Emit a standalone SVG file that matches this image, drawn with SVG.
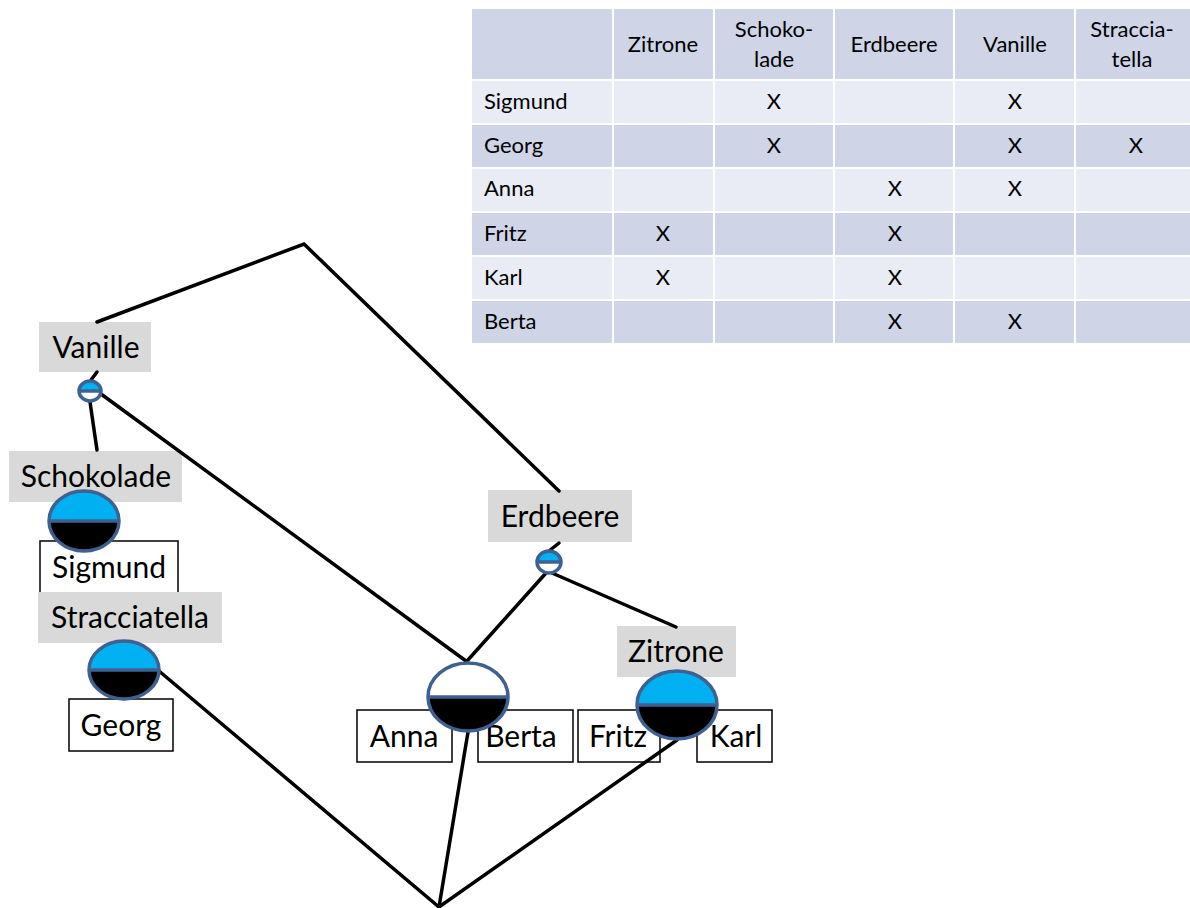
<svg xmlns="http://www.w3.org/2000/svg" width="1190" height="908" viewBox="0 0 1190 908">
  <defs>
    <style>
      .cell-h { fill: #cfd5e6; }
      .cell-l { fill: #e9ecf4; }
      .grid { stroke: #ffffff; stroke-width: 2; }
      .tt { font-family: Lato, "Liberation Sans", sans-serif; font-size: 22px; fill: #000; }
      .tc { text-anchor: middle; }
      .lbl { fill: #d9d9d9; }
      .box { fill: #ffffff; stroke: #000; stroke-width: 1.5; }
      .nt { font-family: Lato, "Liberation Sans", sans-serif; font-size: 30px; fill: #000; text-anchor: middle; }
      .edge { stroke: #000; stroke-width: 3.5; fill: none; stroke-linecap: round; }
      .ring { fill: none; stroke: #3f6191; stroke-width: 3.5; }
      .blue { fill: #00b0f0; }
      .black { fill: #000; }
      .white { fill: #fff; }
    </style>
  </defs>
  <rect width="1190" height="908" fill="#ffffff"/>

  <!-- context table -->
  <g id="table">
    <rect class="cell-h" x="472" y="9" width="718" height="71"/>
    <rect class="cell-l" x="472" y="80" width="718" height="44"/>
    <rect class="cell-h" x="472" y="124" width="718" height="44"/>
    <rect class="cell-l" x="472" y="168" width="718" height="44"/>
    <rect class="cell-h" x="472" y="212" width="718" height="44"/>
    <rect class="cell-l" x="472" y="256" width="718" height="44"/>
    <rect class="cell-h" x="472" y="300" width="718" height="43"/>
    <g class="grid">
      <line x1="472" y1="80" x2="1190" y2="80"/>
      <line x1="472" y1="124" x2="1190" y2="124"/>
      <line x1="472" y1="168" x2="1190" y2="168"/>
      <line x1="472" y1="212" x2="1190" y2="212"/>
      <line x1="472" y1="256" x2="1190" y2="256"/>
      <line x1="472" y1="300" x2="1190" y2="300"/>
      <line x1="613" y1="9" x2="613" y2="343"/>
      <line x1="714" y1="9" x2="714" y2="343"/>
      <line x1="834" y1="9" x2="834" y2="343"/>
      <line x1="954" y1="9" x2="954" y2="343"/>
      <line x1="1075" y1="9" x2="1075" y2="343"/>
    </g>
    <g class="tt tc">
      <text x="663" y="52">Zitrone</text>
      <text x="774" y="37">Schoko-</text>
      <text x="774" y="67">lade</text>
      <text x="894" y="52">Erdbeere</text>
      <text x="1015" y="52">Vanille</text>
      <text x="1132" y="37">Straccia-</text>
      <text x="1132" y="67">tella</text>
    </g>
    <g class="tt">
      <text x="484" y="109">Sigmund</text>
      <text x="484" y="153">Georg</text>
      <text x="484" y="196">Anna</text>
      <text x="484" y="241">Fritz</text>
      <text x="484" y="285">Karl</text>
      <text x="484" y="329">Berta</text>
    </g>
    <g class="tt tc">
      <text x="774" y="109">X</text>
      <text x="1015" y="109">X</text>
      <text x="774" y="153">X</text>
      <text x="1015" y="153">X</text>
      <text x="1136" y="153">X</text>
      <text x="895" y="196">X</text>
      <text x="1015" y="196">X</text>
      <text x="663" y="241">X</text>
      <text x="895" y="241">X</text>
      <text x="663" y="285">X</text>
      <text x="895" y="285">X</text>
      <text x="895" y="329">X</text>
      <text x="1015" y="329">X</text>
    </g>
  </g>

  <!-- attribute labels and object boxes -->
  <g id="label-vanille">
    <rect class="lbl" x="39" y="322" width="112" height="50"/>
    <text class="nt" x="96" y="358">Vanille</text>
  </g>
  <g id="label-schokolade">
    <rect class="lbl" x="9" y="451" width="173" height="51"/>
    <text class="nt" x="96" y="487">Schokolade</text>
  </g>
  <g id="object-sigmund">
    <rect class="box" x="40" y="541" width="138" height="52"/>
    <text class="nt" x="109" y="578">Sigmund</text>
  </g>
  <g id="label-stracciatella">
    <rect class="lbl" x="38" y="592" width="184" height="51"/>
    <text class="nt" x="130" y="628">Stracciatella</text>
  </g>
  <g id="object-georg">
    <rect class="box" x="69" y="699" width="104" height="52"/>
    <text class="nt" x="121" y="736">Georg</text>
  </g>
  <g id="label-erdbeere">
    <rect class="lbl" x="488" y="490" width="144" height="52"/>
    <text class="nt" x="560" y="527">Erdbeere</text>
  </g>
  <g id="label-zitrone">
    <rect class="lbl" x="617" y="626" width="119" height="51"/>
    <text class="nt" x="676" y="662">Zitrone</text>
  </g>
  <g id="object-anna">
    <rect class="box" x="357" y="710" width="95" height="52"/>
    <text class="nt" x="404" y="747">Anna</text>
  </g>
  <g id="object-berta">
    <rect class="box" x="478" y="710" width="95" height="52"/>
    <text class="nt" x="521" y="747">Berta</text>
  </g>
  <g id="object-fritz">
    <rect class="box" x="578" y="710" width="82" height="52"/>
    <text class="nt" x="618" y="747">Fritz</text>
  </g>
  <g id="object-karl">
    <rect class="box" x="697" y="710" width="75" height="52"/>
    <text class="nt" x="736" y="747">Karl</text>
  </g>

  <!-- lattice edges -->
  <g id="connectors" class="edge">
    <polyline points="97,322 304,244 559,491"/>
    <line x1="97" y1="372" x2="91" y2="380"/>
    <line x1="90" y1="402" x2="97" y2="450"/>
    <line x1="101" y1="394" x2="466" y2="661"/>
    <line x1="559" y1="543" x2="549" y2="551"/>
    <line x1="546" y1="573" x2="467" y2="661"/>
    <line x1="552" y1="573" x2="676" y2="627"/>
    <line x1="159" y1="671" x2="439" y2="907"/>
    <line x1="468" y1="732" x2="439" y2="907"/>
    <line x1="677" y1="740" x2="439" y2="907"/>
  </g>

  <!-- concept nodes: upper half = own attribute, lower half = own objects -->
  <g id="concept-vanille">
    <ellipse class="white" cx="90" cy="391" rx="11" ry="10"/>
    <path class="blue" d="M79,391 A11,10 0 0 1 101,391 Z"/>
    <line class="ring" x1="79" y1="391" x2="101" y2="391"/>
    <ellipse class="ring" cx="90" cy="391" rx="11" ry="10"/>
  </g>
  <g id="concept-schokolade">
    <ellipse class="black" cx="84" cy="521" rx="35" ry="30"/>
    <path class="blue" d="M49,521 A35,30 0 0 1 119,521 Z"/>
    <line class="ring" x1="49" y1="521" x2="119" y2="521"/>
    <ellipse class="ring" cx="84" cy="521" rx="35" ry="30"/>
  </g>
  <g id="concept-stracciatella">
    <ellipse class="black" cx="124" cy="670" rx="35" ry="29"/>
    <path class="blue" d="M89,670 A35,29 0 0 1 159,670 Z"/>
    <line class="ring" x1="89" y1="670" x2="159" y2="670"/>
    <ellipse class="ring" cx="124" cy="670" rx="35" ry="29"/>
  </g>
  <g id="concept-erdbeere">
    <ellipse class="white" cx="549" cy="562" rx="12" ry="11"/>
    <path class="blue" d="M537,562 A12,11 0 0 1 561,562 Z"/>
    <line class="ring" x1="537" y1="562" x2="561" y2="562"/>
    <ellipse class="ring" cx="549" cy="562" rx="12" ry="11"/>
  </g>
  <g id="concept-erdbeere-vanille">
    <ellipse class="black" cx="468" cy="697" rx="40" ry="34"/>
    <path class="white" d="M428,697 A40,34 0 0 1 508,697 Z"/>
    <line class="ring" x1="428" y1="697" x2="508" y2="697"/>
    <ellipse class="ring" cx="468" cy="697" rx="40" ry="34"/>
  </g>
  <g id="concept-zitrone">
    <ellipse class="black" cx="677" cy="705" rx="40" ry="34"/>
    <path class="blue" d="M637,705 A40,34 0 0 1 717,705 Z"/>
    <line class="ring" x1="637" y1="705" x2="717" y2="705"/>
    <ellipse class="ring" cx="677" cy="705" rx="40" ry="34"/>
  </g>
</svg>
